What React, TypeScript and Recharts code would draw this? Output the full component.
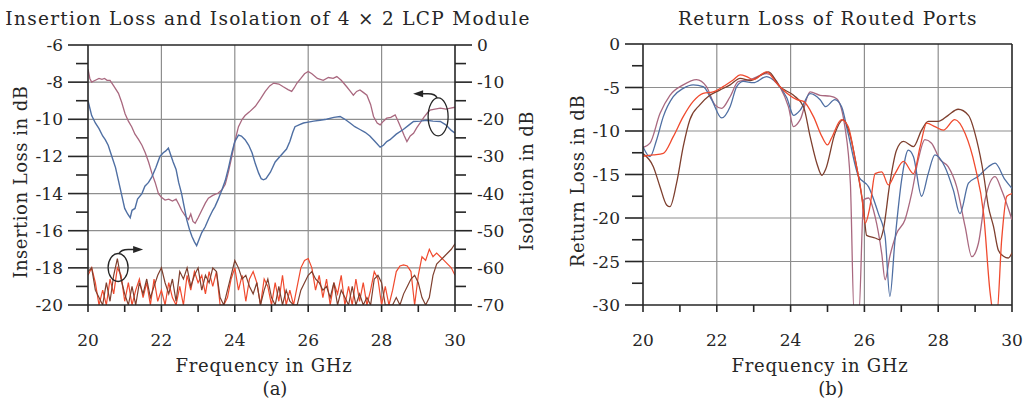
import React from "react";
import { LineChart, Line, XAxis, YAxis, CartesianGrid, ReferenceLine, ReferenceDot } from "recharts";

// Two panels: (a) insertion loss + isolation, (b) return loss of routed ports.

const FONT = "'DejaVu Serif', serif";
const FS = 17;
const INK = "#262626";
const GRID = "#8e8e8e";

const BLUE = "#4f6fa3";
const MAUVE = "#a9687f";
const RED = "#f04a2e";
const BROWN = "#7e3f2e";

// ---- axes -----------------------------------------------------------------
const freqTicks = [20, 21, 22, 23, 24, 25, 26, 27, 28, 29, 30];
const freqLabels = [20, 22, 24, 26, 28, 30];
const gridFreq = [22, 24, 26, 28];

const ilTicks = [-6, -7, -8, -9, -10, -11, -12, -13, -14, -15, -16, -17, -18, -19, -20];
const ilLabels = [-6, -8, -10, -12, -14, -16, -18, -20];
const gridIL = [-8, -10, -12, -14, -16, -18];

const isoTicks = [0, -5, -10, -15, -20, -25, -30, -35, -40, -45, -50, -55, -60, -65, -70];
const isoLabels = [0, -10, -20, -30, -40, -50, -60, -70];

const rlTicks = [0, -2.5, -5, -7.5, -10, -12.5, -15, -17.5, -20, -22.5, -25, -27.5, -30];
const rlLabels = [0, -5, -10, -15, -20, -25, -30];
const gridRL = [-5, -10, -15, -20, -25];

// ---- panel (a): insertion loss (left axis), [GHz, dB] ----------------------
const ilBlue: [number, number][] = [
  [20.0, -9.0], [20.1, -9.8], [20.2, -10.2], [20.3, -10.5], [20.4, -10.9], [20.47, -11.1], [20.55, -11.4],
  [20.65, -12.0], [20.75, -12.6], [20.83, -13.3], [20.92, -14.1], [21.0, -14.8], [21.08, -15.1], [21.15, -15.3],
  [21.2, -14.9], [21.28, -14.8], [21.35, -14.3], [21.47, -14.0], [21.55, -13.6], [21.65, -13.4], [21.74, -13.1],
  [21.85, -12.6], [21.96, -12.0], [22.05, -11.8], [22.12, -11.7], [22.19, -11.55], [22.25, -11.9], [22.32, -12.3],
  [22.4, -12.7], [22.47, -13.4], [22.55, -14.0], [22.62, -14.7], [22.69, -15.4], [22.76, -15.9], [22.83, -16.3],
  [22.9, -16.6], [22.96, -16.8], [23.02, -16.5], [23.1, -16.1], [23.19, -15.8], [23.3, -15.3], [23.4, -14.9],
  [23.46, -14.7], [23.55, -14.3], [23.65, -13.8], [23.74, -13.3], [23.83, -12.6], [23.92, -11.8], [24.0, -11.2],
  [24.1, -10.85], [24.18, -10.9], [24.28, -11.1], [24.38, -11.4], [24.47, -11.8], [24.56, -12.4], [24.65, -12.9],
  [24.72, -13.2], [24.78, -13.26], [24.85, -13.2], [24.97, -12.85], [25.1, -12.3], [25.23, -12.0], [25.32, -11.8],
  [25.41, -11.6], [25.5, -11.2], [25.58, -10.7], [25.64, -10.4], [25.75, -10.3], [25.87, -10.2], [26.0, -10.15],
  [26.15, -10.1], [26.32, -10.05], [26.5, -10.0], [26.7, -9.9], [26.87, -9.85], [27.0, -10.0], [27.14, -10.2],
  [27.27, -10.4], [27.41, -10.55], [27.55, -10.7], [27.68, -10.9], [27.82, -11.2], [27.96, -11.5], [28.05, -11.4],
  [28.14, -11.2], [28.23, -11.1], [28.4, -10.8], [28.59, -10.55], [28.75, -10.3], [28.87, -10.12], [29.05, -10.1],
  [29.23, -10.05], [29.4, -10.1], [29.6, -10.12], [29.75, -10.3], [29.9, -10.6], [30.0, -10.75],
];

const ilMauve: [number, number][] = [
  [20.0, -7.3], [20.05, -7.8], [20.1, -8.0], [20.2, -7.9], [20.3, -7.8], [20.38, -7.85], [20.45, -7.8],
  [20.52, -7.9], [20.6, -7.9], [20.7, -8.2], [20.83, -8.6], [20.92, -9.1], [21.01, -9.7], [21.1, -10.1],
  [21.19, -10.4], [21.28, -10.8], [21.38, -11.1], [21.47, -11.4], [21.56, -11.8], [21.65, -12.3], [21.74, -12.9],
  [21.83, -13.4], [21.92, -14.0], [22.0, -14.2], [22.1, -14.35], [22.2, -14.3], [22.3, -14.4], [22.4, -14.3],
  [22.48, -14.6], [22.55, -14.9], [22.65, -15.2], [22.74, -15.4], [22.8, -15.1], [22.86, -15.5], [22.92, -15.6],
  [23.0, -15.3], [23.1, -14.9], [23.2, -14.5], [23.28, -14.25], [23.4, -14.1], [23.55, -13.97], [23.65, -13.8],
  [23.74, -13.5], [23.83, -12.8], [23.92, -12.0], [24.0, -11.2], [24.1, -10.4], [24.2, -10.0], [24.28, -9.8],
  [24.4, -9.6], [24.56, -9.3], [24.7, -8.9], [24.83, -8.5], [24.95, -8.2], [25.06, -8.05], [25.2, -8.1],
  [25.32, -8.25], [25.45, -8.4], [25.55, -8.5], [25.62, -8.3], [25.69, -8.06], [25.8, -7.8], [25.9, -7.55],
  [26.0, -7.43], [26.1, -7.55], [26.25, -7.8], [26.41, -7.9], [26.55, -7.75], [26.68, -7.8], [26.78, -7.7],
  [26.9, -7.9], [27.05, -8.25], [27.15, -8.5], [27.23, -8.7], [27.32, -8.5], [27.41, -8.42], [27.5, -8.55],
  [27.6, -8.7], [27.7, -9.2], [27.78, -9.85], [27.88, -10.2], [27.96, -10.3], [28.05, -10.1], [28.14, -9.94],
  [28.25, -9.9], [28.37, -9.76], [28.45, -10.1], [28.55, -10.57], [28.62, -10.9], [28.69, -11.2], [28.78, -10.9],
  [28.87, -10.75], [28.96, -10.45], [29.05, -10.2], [29.15, -9.9], [29.25, -9.65], [29.32, -9.5], [29.45, -9.45],
  [29.6, -9.4], [29.75, -9.45], [29.88, -9.4], [30.0, -9.35],
];

// ---- panel (a): isolation (right axis), sampled every 0.1 GHz from 20 GHz ---
const ISO_START = 20;
const ISO_STEP = 0.1;
const isoRed = [
  -62, -60, -64, -70, -66, -70, -63, -67, -60, -62,
  -69, -64, -70, -66, -63, -68, -64, -70, -63, -69,
  -66, -70, -64, -68, -70, -65, -70, -62, -66, -61,
  -64, -62, -67, -61, -65, -61, -70, -70, -68, -63,
  -60, -66, -62, -69, -63, -61, -64, -70, -63, -65,
  -70, -64, -69, -62, -70, -66, -70, -65, -60, -58,
  -57.5, -60, -66, -62, -68, -63, -70, -64, -67, -62,
  -70, -65, -70, -63, -69, -64, -70, -66, -61, -63,
  -70, -65, -70, -66, -61, -59.5, -59.2, -59.5, -61, -70,
  -62, -57, -58, -55, -57, -56, -57, -58, -59, -60,
  -62,
];
const isoBrown = [
  -61, -60, -66, -68, -70, -64, -69, -62, -57.5, -63,
  -67, -70, -65, -70, -64, -67, -63, -68, -65, -62,
  -60, -64, -67, -63, -69, -61, -63, -60, -65, -62,
  -60, -66, -62, -64, -60, -61, -68, -70, -66, -62,
  -58, -60, -63, -62, -65, -67, -64, -70, -66, -63,
  -68, -70, -65, -70, -66, -69, -70, -70, -66, -64,
  -62, -61, -63, -64, -66, -65, -68, -64, -70, -66,
  -68, -70, -65, -70, -67, -70, -68, -70, -63, -62,
  -64, -70, -70, -70, -68, -70, -67, -65, -63, -62,
  -64, -68, -70, -68, -62, -59, -58, -57, -56, -55,
  -53.5,
];

// ---- panel (b): return loss, [GHz, dB] -------------------------------------
const rlBlue: [number, number][] = [
  [20.0, -11.8], [20.19, -12.95], [20.37, -11.0], [20.55, -8.35], [20.82, -6.06], [21.09, -5.1], [21.36, -4.7],
  [21.63, -4.9], [21.86, -6.4], [22.13, -8.5], [22.36, -7.2], [22.54, -4.9], [22.72, -4.3], [22.99, -4.45],
  [23.35, -3.75], [23.62, -4.5], [23.9, -6.2], [24.08, -8.2], [24.26, -7.6], [24.53, -5.7], [24.8, -6.4],
  [24.95, -7.2], [25.2, -6.4], [25.38, -7.2], [25.56, -10.3], [25.84, -15.2], [26.11, -16.4], [26.38, -19.5],
  [26.56, -22.1], [26.69, -29.0], [26.83, -22.5], [27.01, -15.6], [27.19, -12.2], [27.33, -12.95], [27.55, -17.5],
  [27.73, -14.9], [27.91, -12.75], [28.18, -14.1], [28.41, -16.8], [28.59, -19.5], [28.82, -16.0], [29.09, -15.2],
  [29.36, -14.1], [29.54, -13.7], [29.81, -15.6], [30.0, -16.6],
];
const rlMauve: [number, number][] = [
  [20.0, -11.9], [20.19, -11.4], [20.46, -8.0], [20.73, -5.9], [21.09, -4.7], [21.45, -4.1], [21.72, -4.9],
  [21.95, -7.0], [22.13, -7.4], [22.36, -6.06], [22.58, -4.33], [22.9, -4.1], [23.35, -3.4], [23.71, -4.9],
  [23.94, -7.2], [24.08, -9.5], [24.26, -8.7], [24.53, -5.5], [24.8, -5.9], [25.07, -6.0], [25.25, -6.3],
  [25.47, -9.5], [25.62, -16.0], [25.72, -31], [25.85, -31], [25.98, -17.9], [26.11, -17.7], [26.29, -19.85],
  [26.47, -24.1], [26.56, -27.1], [26.69, -24.4], [26.87, -21.8], [27.1, -20.2], [27.28, -17.2], [27.46, -13.3],
  [27.64, -11.0], [27.82, -11.4], [28.05, -13.3], [28.27, -14.1], [28.5, -16.4], [28.73, -21.0], [28.91, -24.45],
  [29.09, -22.9], [29.27, -17.9], [29.54, -15.25], [29.72, -16.8], [30.0, -20.2],
];
const rlRed: [number, number][] = [
  [20.0, -12.9], [20.28, -12.75], [20.55, -12.56], [20.82, -10.65], [21.09, -8.35], [21.36, -6.6], [21.63, -5.67],
  [21.9, -5.5], [22.17, -4.9], [22.45, -4.1], [22.63, -3.56], [22.81, -3.75], [22.99, -4.1], [23.35, -3.2],
  [23.62, -4.5], [23.9, -5.67], [24.17, -6.4], [24.35, -6.6], [24.62, -8.35], [24.85, -10.65], [25.0, -11.6],
  [25.11, -10.8], [25.38, -8.7], [25.56, -9.5], [25.75, -13.3], [25.93, -17.5], [26.02, -20.6], [26.15, -18.7],
  [26.29, -14.9], [26.47, -14.7], [26.65, -16.2], [26.83, -14.9], [27.06, -13.5], [27.33, -14.9], [27.51, -11.8],
  [27.69, -9.1], [27.91, -9.5], [28.14, -9.9], [28.45, -8.7], [28.73, -10.3], [29.0, -14.1], [29.23, -19.5],
  [29.41, -28.7], [29.5, -31], [29.59, -31], [29.72, -22.5], [29.86, -17.5], [30.0, -17.2],
];
const rlBrown: [number, number][] = [
  [20.0, -12.6], [20.28, -14.1], [20.46, -16.4], [20.64, -18.5], [20.73, -18.7], [20.91, -16.0], [21.09, -11.8],
  [21.27, -8.7], [21.54, -7.0], [21.81, -5.9], [22.08, -5.3], [22.36, -4.7], [22.63, -3.95], [22.9, -4.2],
  [23.4, -3.2], [23.71, -4.9], [24.08, -5.9], [24.35, -7.2], [24.53, -10.65], [24.71, -13.7], [24.85, -15.1],
  [24.95, -14.4], [25.2, -10.3], [25.43, -8.7], [25.6, -10.3], [25.79, -14.1], [25.98, -19.1], [26.06, -22.0],
  [26.29, -22.3], [26.42, -22.5], [26.51, -21.4], [26.69, -16.0], [26.87, -12.2], [27.06, -11.2], [27.33, -11.8],
  [27.55, -9.9], [27.73, -8.9], [28.0, -8.9], [28.27, -8.2], [28.54, -7.5], [28.82, -8.2], [29.04, -11.0],
  [29.23, -15.0], [29.36, -18.7], [29.5, -21.0], [29.63, -23.7], [29.77, -24.4], [29.9, -24.6], [30.0, -24.0],
];

// tables for Recharts
const pts = (arr: [number, number][]) => arr.map(([f, v]) => ({ f, v }));
const isoPts = (arr: number[]) => arr.map((v, i) => ({ f: +(ISO_START + i * ISO_STEP).toFixed(2), v }));

const fmt = (v: number) => String(v);

// ---- tick drawing: long ticks with labels, short ones without ----------------
type Side = "left" | "right" | "bottom";
const axisTick = (side: Side, labels: number[], major: number, minor: number) => (p: any) => {
  const v = p.payload.value;
  const isMajor = labels.includes(v);
  const len = isMajor ? major : minor;
  const { x, y } = p;
  const txt = { fontFamily: FONT, fontSize: FS, fill: INK } as const;
  if (side === "bottom") {
    return (
      <g>
        <line x1={x} y1={y} x2={x} y2={y + len} stroke={INK} strokeWidth={1.6} />
        {isMajor && <text x={x} y={y + 41} textAnchor="middle" {...txt}>{fmt(v)}</text>}
      </g>
    );
  }
  const dir = side === "left" ? -1 : 1;
  return (
    <g>
      <line x1={x} y1={y} x2={x + dir * len} y2={y} stroke={INK} strokeWidth={1.6} />
      {isMajor && (
        <text x={x + dir * (len + 5)} y={y + 6} textAnchor={side === "left" ? "end" : "start"} {...txt}>{fmt(v)}</text>
      )}
    </g>
  );
};

// ellipse + arrow pointing to the axis a group of curves belongs to
const pointer = (rx: number, ry: number, toRight: boolean) => (p: any) => {
  const { cx, cy } = p;
  if (cx == null || cy == null) return <g />;
  const top = cy - ry;
  const ay = top - 4;
  const d = toRight
    ? `M${cx + 1},${top} Q${cx + 3},${ay} ${cx + 10},${ay} L${cx + 16},${ay}`
    : `M${cx - 1},${top} Q${cx - 3},${ay} ${cx - 10},${ay} L${cx - 16},${ay}`;
  const head = toRight
    ? `${cx + 15},${ay - 3.5} ${cx + 25},${ay} ${cx + 15},${ay + 3.5}`
    : `${cx - 15},${ay - 3.5} ${cx - 25},${ay} ${cx - 15},${ay + 3.5}`;
  return (
    <g>
      <ellipse cx={cx} cy={cy} rx={rx} ry={ry} fill="none" stroke={INK} strokeWidth={1.3} />
      <path d={d} fill="none" stroke={INK} strokeWidth={1.5} />
      <polygon points={head} fill={INK} />
    </g>
  );
};

const Txt: React.FC<{ x: number; y: number; rot?: boolean; size?: number; ls?: number; children: React.ReactNode }> = ({ x, y, rot, size = 18, ls = 0.6, children }) => (
  <div
    style={{
      position: "absolute", left: x, top: y, whiteSpace: "nowrap", fontFamily: FONT, fontSize: size, color: INK,
      letterSpacing: ls, lineHeight: 1, transform: `translate(-50%, -50%)${rot ? " rotate(-90deg)" : ""}`,
    }}
  >
    {children}
  </div>
);

const axisLine = { stroke: INK, strokeWidth: 1.6 };

const PanelA = () => (
  <LineChart width={520} height={403} margin={{ top: 45, right: 0, bottom: 0, left: 0 }}>
    <CartesianGrid yAxisId="il" stroke={GRID} strokeWidth={1.2} verticalValues={gridFreq} horizontalValues={gridIL} />
    <XAxis
      dataKey="f" type="number" domain={[20, 30]} ticks={freqTicks} interval={0} height={98}
      tickSize={0} tickMargin={0} tickLine={false} axisLine={axisLine} allowDataOverflow
      tick={axisTick("bottom", freqLabels, 7, 7)}
    />
    <YAxis
      yAxisId="il" orientation="left" domain={[-20, -6]} ticks={ilTicks} interval={0} width={88}
      tickSize={0} tickMargin={0} tickLine={false} axisLine={axisLine} allowDataOverflow
      tick={axisTick("left", ilLabels, 20, 12)}
    />
    <YAxis
      yAxisId="iso" orientation="right" domain={[-70, 0]} ticks={isoTicks} interval={0} width={65}
      tickSize={0} tickMargin={0} tickLine={false} axisLine={axisLine} allowDataOverflow
      tick={axisTick("right", isoLabels, 17, 11)}
    />
    <ReferenceLine yAxisId="il" y={-6} stroke={INK} strokeWidth={1.6} />
    <Line yAxisId="iso" data={isoPts(isoRed)} dataKey="v" stroke={RED} strokeWidth={1.2} dot={false} type="linear" isAnimationActive={false} />
    <Line yAxisId="iso" data={isoPts(isoBrown)} dataKey="v" stroke={BROWN} strokeWidth={1.2} dot={false} type="linear" isAnimationActive={false} />
    <Line yAxisId="il" data={pts(ilMauve)} dataKey="v" stroke={MAUVE} strokeWidth={1.3} dot={false} type="linear" isAnimationActive={false} />
    <Line yAxisId="il" data={pts(ilBlue)} dataKey="v" stroke={BLUE} strokeWidth={1.4} dot={false} type="linear" isAnimationActive={false} />
    <ReferenceDot yAxisId="iso" x={20.82} y={-59.9} shape={pointer(10, 14, true)} />
    <ReferenceDot yAxisId="il" x={29.54} y={-9.87} shape={pointer(10, 19, false)} />
  </LineChart>
);

const PanelB = () => (
  <LineChart width={503} height={403} margin={{ top: 44, right: 11, bottom: 0, left: 0 }}>
    <CartesianGrid stroke={GRID} strokeWidth={1.2} verticalValues={gridFreq} horizontalValues={gridRL} />
    <XAxis
      dataKey="f" type="number" domain={[20, 30]} ticks={freqTicks} interval={0} height={98}
      tickSize={0} tickMargin={0} tickLine={false} axisLine={axisLine} allowDataOverflow
      tick={axisTick("bottom", freqLabels, 7, 7)}
    />
    <YAxis
      orientation="left" domain={[-30, 0]} ticks={rlTicks} interval={0} width={123}
      tickSize={0} tickMargin={0} tickLine={false} axisLine={axisLine} allowDataOverflow
      tick={axisTick("left", rlLabels, 18, 11)}
    />
    <ReferenceLine y={0} stroke={INK} strokeWidth={1.6} />
    <ReferenceLine x={30} stroke={INK} strokeWidth={1.6} />
    <Line data={pts(rlMauve)} dataKey="v" stroke={MAUVE} strokeWidth={1.3} dot={false} type="monotone" isAnimationActive={false} />
    <Line data={pts(rlBlue)} dataKey="v" stroke={BLUE} strokeWidth={1.3} dot={false} type="monotone" isAnimationActive={false} />
    <Line data={pts(rlBrown)} dataKey="v" stroke={BROWN} strokeWidth={1.3} dot={false} type="monotone" isAnimationActive={false} />
    <Line data={pts(rlRed)} dataKey="v" stroke={RED} strokeWidth={1.3} dot={false} type="monotone" isAnimationActive={false} />
  </LineChart>
);

export default function App() {
  return (
    <div style={{ position: "absolute", left: 0, top: 0, width: 1023, height: 403, background: "#fff", overflow: "hidden" }}>
      <div style={{ position: "absolute", left: 0, top: 0 }}><PanelA /></div>
      <div style={{ position: "absolute", left: 520, top: 0 }}><PanelB /></div>
      <Txt x={268} y={19} size={18.5} ls={1.3}>Insertion Loss and Isolation of 4 × 2 LCP Module</Txt>
      <Txt x={828} y={19} size={18.5} ls={1.3}>Return Loss of Routed Ports</Txt>
      <Txt x={21} y={182} rot ls={0.5}>Insertion Loss in dB</Txt>
      <Txt x={527} y={181} rot ls={0.5}>Isolation in dB</Txt>
      <Txt x={578} y={181} rot ls={0.5}>Return Loss in dB</Txt>
      <Txt x={264} y={366} ls={0.7}>Frequency in GHz</Txt>
      <Txt x={275} y={389} ls={0}>(a)</Txt>
      <Txt x={820} y={366} ls={0.7}>Frequency in GHz</Txt>
      <Txt x={831} y={389} ls={0}>(b)</Txt>
    </div>
  );
}
